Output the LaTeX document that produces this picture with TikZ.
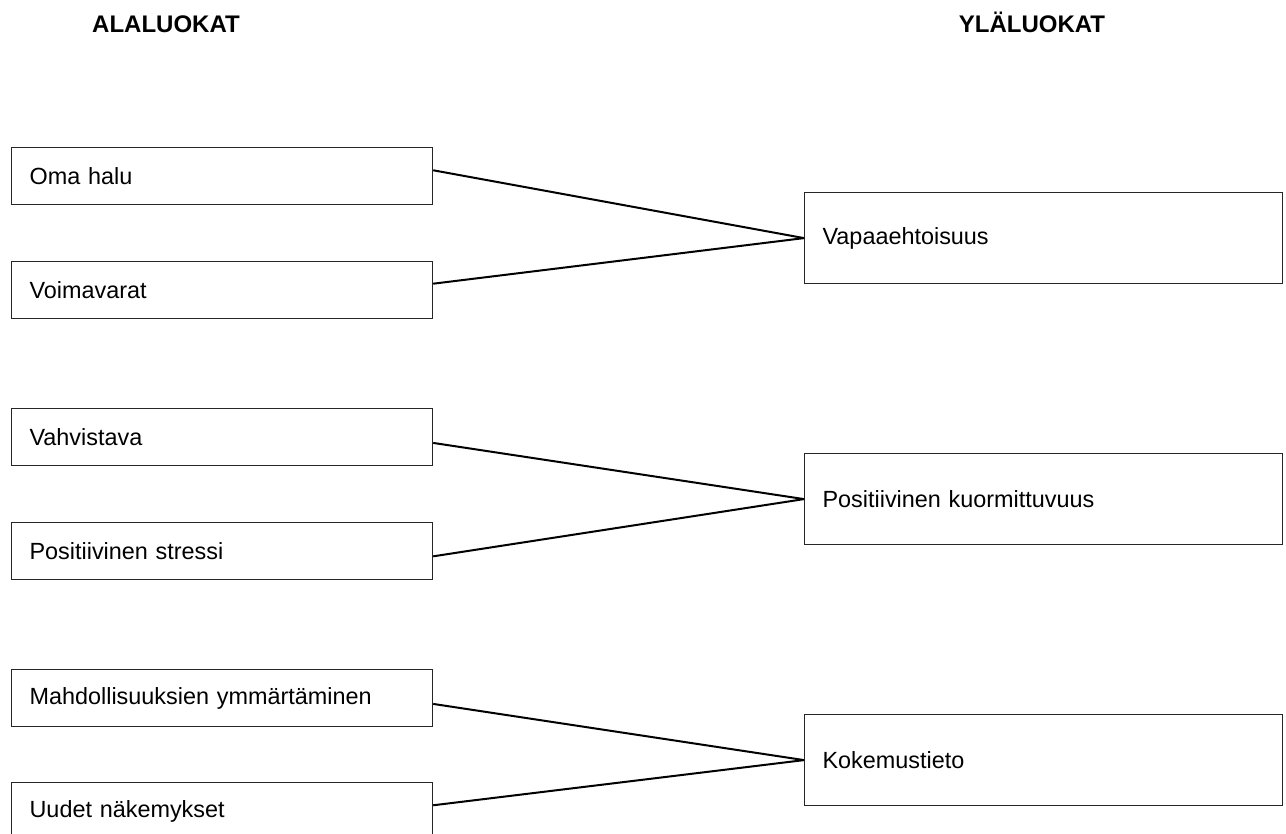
\documentclass[tikz,border=0pt]{standalone}
\usepackage{fontspec}
\setmainfont{Liberation Sans}
\usetikzlibrary{calc}
\begin{document}
\begin{tikzpicture}[x=1pt,y=-1pt,
  every node/.style={font=\fontsize{23.4}{28}\selectfont},
  subbox/.style={draw=black!85, line width=1.2pt, anchor=north west,
    minimum width=421pt, minimum height=57pt, inner xsep=18pt, inner ysep=0pt,
    text width=385pt, align=left},
  mainbox/.style={draw=black!85, line width=1.2pt, anchor=north west,
    minimum width=478pt, minimum height=91pt, inner xsep=18pt, inner ysep=0pt,
    text width=442pt, align=left},
  head/.style={font=\fontsize{24}{28}\selectfont\bfseries, anchor=base},
  link/.style={draw=black, line width=2pt}]
  % page frame
  \path[use as bounding box] (0,0) rectangle (1286,834);
  \clip (0,0) rectangle (1286,834);

  % column headings
  \node[head] (hsub) at (166,33) {ALALUOKAT};
  \node[head] (hmain) at (1032,33) {YLÄLUOKAT};

  % subcategories
  \node[subbox] (s1) at (11,147) {Oma halu};
  \node[subbox] (s2) at (11,261) {Voimavarat};
  \node[subbox] (s3) at (11,408) {Vahvistava};
  \node[subbox] (s4) at (11,522) {Positiivinen stressi};
  \node[subbox] (s5) at (11,669) {Mahdollisuuksien ymmärtäminen};
  \node[subbox] (s6) at (11,782) {Uudet näkemykset};

  % main categories
  \node[mainbox] (m1) at (804,192) {Vapaaehtoisuus};
  \node[mainbox] (m2) at (804,453) {Positiivinen kuormittuvuus};
  \node[mainbox] (m3) at (804,714) {Kokemustieto};

  % connectors
  \draw[link] ($(s1.north east)!0.40!(s1.south east)$) -- (m1.west);
  \draw[link] ($(s2.north east)!0.39!(s2.south east)$) -- (m1.west);
  \draw[link] ($(s3.north east)!0.60!(s3.south east)$) -- (m2.west);
  \draw[link] ($(s4.north east)!0.59!(s4.south east)$) -- (m2.west);
  \draw[link] ($(s5.north east)!0.60!(s5.south east)$) -- (m3.west);
  \draw[link] ($(s6.north east)!0.40!(s6.south east)$) -- (m3.west);
\end{tikzpicture}
\end{document}
